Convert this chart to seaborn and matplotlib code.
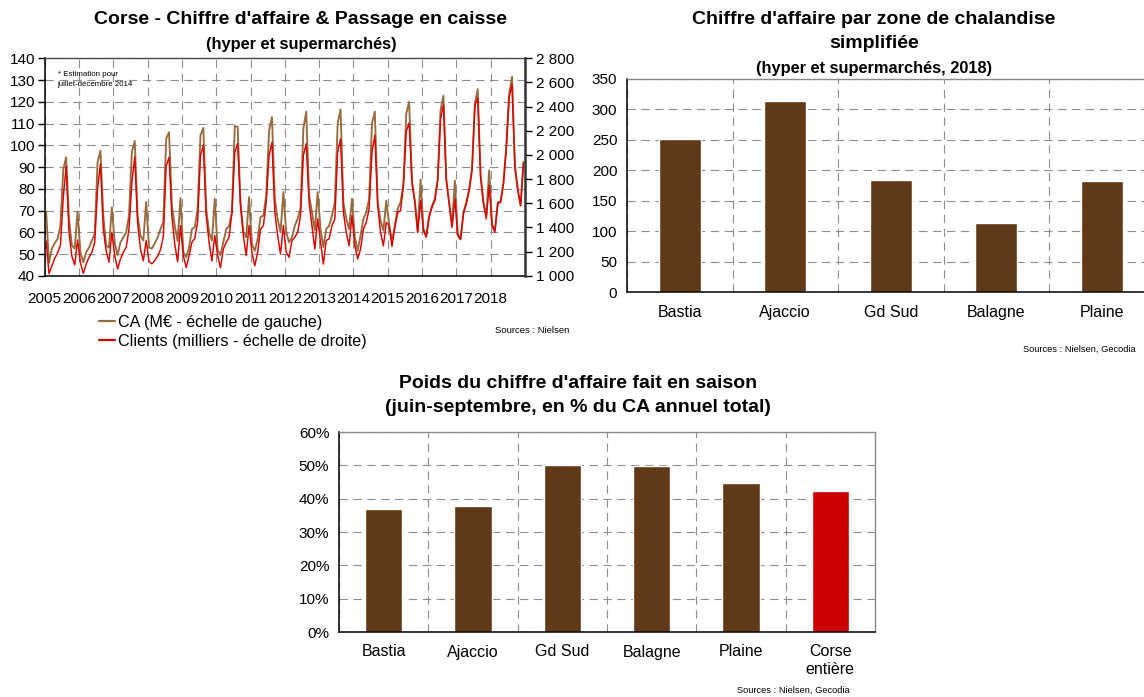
import numpy as np
import pandas as pd
import matplotlib
matplotlib.use("Agg")
import matplotlib.pyplot as plt
from matplotlib.ticker import FixedLocator, FuncFormatter, MultipleLocator
import seaborn as sns

sns.set_style("white")
plt.rcParams["font.family"] = ["Liberation Sans", "DejaVu Sans"]
plt.rcParams["lines.scale_dashes"] = False
for key in ("text.color", "axes.labelcolor", "xtick.color", "ytick.color", "axes.edgecolor"):
    plt.rcParams[key] = "black"

# ---------------- data ----------------
years = list(range(2005, 2019))

# Chiffre d'affaire mensuel (M€), janvier -> décembre
ca_2005 = [69.5, 46.0, 52.5, 55.0, 57.0, 63.0, 89.0, 94.5, 66.0, 54.0, 52.5, 69.5]
ca_2006 = [50.8, 46.2, 50.8, 53.0, 56.2, 59.2, 92.3, 97.5, 67.7, 53.8, 53.0, 71.5]
ca_2007 = [55.0, 49.5, 55.4, 57.7, 60.0, 67.7, 97.0, 102.0, 67.7, 58.5, 56.2, 74.0]
ca_2008 = [53.0, 52.5, 55.0, 57.5, 61.5, 64.5, 103.0, 106.0, 72.0, 63.0, 56.0, 75.7]
ca_2009 = [50.8, 48.5, 53.0, 61.5, 62.3, 70.8, 104.6, 108.0, 70.8, 60.0, 56.2, 75.4]
ca_2010 = [52.0, 49.5, 55.4, 61.5, 62.8, 69.2, 108.9, 108.5, 73.8, 60.0, 57.7, 76.2]
ca_2011 = [54.6, 51.5, 56.9, 67.0, 67.7, 76.9, 106.9, 113.0, 75.4, 66.0, 60.0, 78.5]
ca_2012 = [60.0, 55.4, 57.7, 63.0, 66.2, 70.8, 107.7, 115.5, 76.9, 69.2, 60.8, 78.5]
ca_2013 = [61.5, 53.1, 61.5, 63.0, 67.7, 73.8, 110.0, 116.5, 73.8, 66.2, 61.5, 75.4]
ca_2014 = [57.7, 51.5, 58.5, 66.2, 69.2, 75.4, 110.0, 115.5, 73.8, 65.4, 60.8, 74.6]
ca_2015 = [63.8, 56.2, 63.0, 70.8, 73.8, 82.3, 114.6, 120.0, 83.0, 74.6, 60.0, 84.3]
ca_2016 = [61.5, 58.5, 67.7, 72.3, 75.4, 84.6, 116.2, 122.8, 84.6, 73.8, 63.0, 83.8]
ca_2017 = [59.2, 57.2, 69.2, 73.8, 80.0, 89.2, 119.2, 125.8, 86.2, 73.8, 67.7, 88.5]
ca_2018 = [63.8, 60.8, 73.8, 74.2, 83.0, 100.0, 123.8, 131.5, 90.8, 80.0, 72.3, 92.3]

# Passages en caisse mensuels (milliers de clients)
cl_2005 = [1288, 1018, 1081, 1144, 1189, 1252, 1648, 1909, 1360, 1162, 1090, 1297]
cl_2006 = [1108, 1020, 1097, 1153, 1194, 1277, 1720, 1927, 1387, 1207, 1112, 1360]
cl_2007 = [1166, 1056, 1139, 1194, 1234, 1387, 1774, 1983, 1443, 1221, 1124, 1292]
cl_2008 = [1117, 1099, 1126, 1162, 1216, 1324, 1909, 1981, 1495, 1261, 1117, 1414]
cl_2009 = [1166, 1068, 1166, 1277, 1310, 1443, 1997, 2080, 1499, 1277, 1124, 1333]
cl_2010 = [1166, 1068, 1221, 1277, 1319, 1522, 2024, 2094, 1581, 1333, 1166, 1416]
cl_2011 = [1194, 1083, 1194, 1387, 1414, 1608, 1997, 2102, 1526, 1333, 1180, 1416]
cl_2012 = [1194, 1153, 1292, 1319, 1360, 1499, 1997, 2094, 1608, 1414, 1221, 1472]
cl_2013 = [1277, 1097, 1292, 1306, 1414, 1468, 2024, 2134, 1526, 1360, 1248, 1499]
cl_2014 = [1248, 1139, 1221, 1387, 1443, 1554, 2024, 2163, 1581, 1360, 1248, 1443]
cl_2015 = [1414, 1243, 1401, 1526, 1540, 1747, 2197, 2265, 1774, 1608, 1360, 1623]
cl_2016 = [1374, 1319, 1484, 1567, 1623, 1789, 2301, 2412, 1789, 1594, 1401, 1637]
cl_2017 = [1333, 1299, 1513, 1596, 1706, 1873, 2412, 2475, 1817, 1596, 1471, 1750]
cl_2018 = [1414, 1360, 1596, 1608, 1761, 2053, 2481, 2580, 1900, 1706, 1580, 1935]

# Chiffre d'affaire 2018 par zone de chalandise (M€)
zones = ["Bastia", "Ajaccio", "Gd Sud", "Balagne", "Plaine"]
ca_zone_2018 = [251, 314, 184, 113.5, 182.5]

# Part du CA réalisée de juin à septembre (%)
zones_saison = ["Bastia", "Ajaccio", "Gd Sud", "Balagne", "Plaine", "Corse\nentière"]
part_saison = [37.0, 37.9, 50.1, 49.8, 44.6, 42.4]

# ---------------- style ----------------
BROWN_LINE = "#976b3e"
RED_LINE = "#dd0000"
BROWN_BAR = "#603a16"
RED_BAR = "#cc0000"
GRID = dict(color="#8e8e8e", lw=0.8, ls=(0, (6, 4)))
TITLE_FS = 14
SUB_FS = 11.8

W, H = 1144, 697
fig = plt.figure(figsize=(W / 100, H / 100), dpi=100)


def rect(x0, x1, y0, y1):
    """Axes rectangle from pixel edges (y measured from the top)."""
    return [x0 / W, (H - y1) / H, (x1 - x0) / W, (y1 - y0) / H]


def fx(x):
    return x / W


def fy(y):
    return (H - y) / H


def space_thousands(v, _):
    return f"{v:,.0f}".replace(",", " ")


# ============ 1) Chiffre d'affaire & passages en caisse ============
ca = sum([ca_2005, ca_2006, ca_2007, ca_2008, ca_2009, ca_2010, ca_2011,
          ca_2012, ca_2013, ca_2014, ca_2015, ca_2016, ca_2017, ca_2018], [])
clients = sum([cl_2005, cl_2006, cl_2007, cl_2008, cl_2009, cl_2010, cl_2011,
               cl_2012, cl_2013, cl_2014, cl_2015, cl_2016, cl_2017, cl_2018], [])
df_line = pd.DataFrame({"mois": np.arange(len(ca)) + 0.5, "CA": ca, "Clients": clients})

ax1 = fig.add_axes(rect(44.7, 524.9, 58.3, 275.8))
sns.lineplot(data=df_line, x="mois", y="CA", color=BROWN_LINE, lw=1.35, ax=ax1,
             label="CA (M€ - échelle de gauche)", legend=False)
ax1r = ax1.twinx()
sns.lineplot(data=df_line, x="mois", y="Clients", color=RED_LINE, lw=1.05, ax=ax1r,
             label="Clients (milliers - échelle de droite)", legend=False)

ax1.set_xlim(0, 12 * len(years))
ax1.set_ylim(40, 140)
ax1r.set_ylim(1000, 2800)
ax1.yaxis.set_major_locator(MultipleLocator(10))
ax1r.yaxis.set_major_locator(MultipleLocator(200))
ax1r.yaxis.set_major_formatter(FuncFormatter(space_thousands))
ax1.set_xticks(np.arange(0, 12 * len(years) + 1, 12))
ax1.set_xticklabels([str(y) for y in years] + [""])
for a in (ax1, ax1r):
    a.set_xlabel("")
    a.set_ylabel("")
ax1.grid(True, axis="both", **GRID)
ax1.set_axisbelow(True)
ax1.tick_params(axis="y", direction="out", length=5, width=1, labelsize=11, pad=2)
ax1.tick_params(axis="x", direction="inout", length=8, width=1, labelsize=11, pad=8)
ax1r.tick_params(axis="y", direction="out", length=5, width=1, labelsize=11, pad=3)
for s in ("left", "bottom"):
    ax1.spines[s].set_color("black")
    ax1.spines[s].set_linewidth(1.1)
ax1.spines["top"].set_color("#4a4a4a")
ax1.spines["top"].set_linewidth(1.0)
ax1.spines["right"].set_visible(False)
for s in ("left", "top", "bottom"):
    ax1r.spines[s].set_visible(False)
ax1r.spines["right"].set_color("#333333")
ax1r.spines["right"].set_linewidth(1.8)

h1, l1 = ax1.get_legend_handles_labels()
h2, l2 = ax1r.get_legend_handles_labels()
leg = fig.legend(h1 + h2, l1 + l2, loc="upper left", bbox_to_anchor=(fx(99), fy(315)),
                 frameon=False, fontsize=11.6, handlelength=1.0, handletextpad=0.2,
                 labelspacing=0.22, borderpad=0, borderaxespad=0)
for line in leg.get_lines():
    line.set_linewidth(1.6)

fig.text(fx(301), fy(20), "Corse - Chiffre d'affaire & Passage en caisse",
         ha="center", va="center", fontsize=TITLE_FS, fontweight="bold")
fig.text(fx(301), fy(44), "(hyper et supermarchés)",
         ha="center", va="center", fontsize=SUB_FS, fontweight="bold")
fig.text(fx(58), fy(74), "* Estimation pour", ha="left", va="center", fontsize=5.7)
fig.text(fx(57), fy(85), "juillet-décembre 2014", ha="left", va="center", fontsize=5.7)
fig.text(fx(495), fy(330), "Sources : Nielsen", ha="left", va="center", fontsize=6.8)


def style_bars(ax, n):
    ax.set_xlim(-0.5, n - 0.5)
    ax.set_xlabel("")
    ax.set_ylabel("")
    ax.xaxis.set_minor_locator(FixedLocator(np.arange(-0.5, n, 1.0)))
    ax.grid(True, axis="y", which="major", **GRID)
    ax.grid(True, axis="x", which="minor", **GRID)
    ax.grid(False, axis="x", which="major")
    ax.set_axisbelow(True)
    ax.tick_params(axis="y", direction="out", length=5, width=1, labelsize=11, pad=2)
    ax.tick_params(axis="x", which="major", direction="in", length=4, width=1,
                   labelsize=11.5, pad=9)
    ax.tick_params(axis="x", which="minor", direction="out", length=5, width=1)
    for s in ("left", "bottom"):
        ax.spines[s].set_color("black")
        ax.spines[s].set_linewidth(1.1)
    for s in ("top", "right"):
        ax.spines[s].set_color("#8a8a8a")
        ax.spines[s].set_linewidth(1.0)


# ============ 2) CA par zone de chalandise ============
ax2 = fig.add_axes(rect(627, 1154.5, 79, 292.3))
sns.barplot(x=zones, y=ca_zone_2018, color=BROWN_BAR, saturation=1, width=0.4, ax=ax2)
ax2.set_ylim(0, 350)
ax2.yaxis.set_major_locator(MultipleLocator(50))
style_bars(ax2, len(zones))

fig.text(fx(874), fy(20), "Chiffre d'affaire par zone de chalandise",
         ha="center", va="center", fontsize=TITLE_FS, fontweight="bold")
fig.text(fx(874), fy(44), "simplifiée", ha="center", va="center",
         fontsize=TITLE_FS, fontweight="bold")
fig.text(fx(874), fy(69), "(hyper et supermarchés, 2018)",
         ha="center", va="center", fontsize=SUB_FS, fontweight="bold")
fig.text(fx(1136), fy(349), "Sources : Nielsen, Gecodia", ha="right", va="center", fontsize=6.7)

# ============ 3) Poids du CA fait en saison ============
ax3 = fig.add_axes(rect(339, 875, 432, 632))
sns.barplot(x=zones_saison, y=part_saison, hue=zones_saison,
            palette=[BROWN_BAR] * 5 + [RED_BAR], saturation=1, width=0.42,
            legend=False, ax=ax3)
ax3.set_ylim(0, 60)
ax3.yaxis.set_major_locator(MultipleLocator(10))
ax3.yaxis.set_major_formatter(FuncFormatter(lambda v, _: f"{v:.0f}%"))
style_bars(ax3, len(zones_saison))

fig.text(fx(578), fy(383), "Poids du chiffre d'affaire fait en saison",
         ha="center", va="center", fontsize=TITLE_FS, fontweight="bold")
fig.text(fx(578), fy(408), "(juin-septembre, en % du CA annuel total)",
         ha="center", va="center", fontsize=TITLE_FS, fontweight="bold")
fig.text(fx(850), fy(690), "Sources : Nielsen, Gecodia", ha="right", va="center", fontsize=6.7)

fig.savefig("out.png", dpi=100)
